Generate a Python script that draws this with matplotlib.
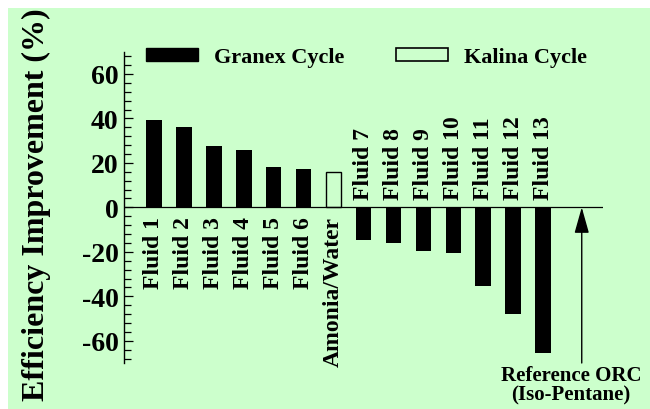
import matplotlib
matplotlib.use('Agg')
import matplotlib.pyplot as plt
from matplotlib.patches import Patch, Rectangle
from matplotlib.ticker import MultipleLocator

# data
fluids = ['Fluid 1', 'Fluid 2', 'Fluid 3', 'Fluid 4', 'Fluid 5', 'Fluid 6',
          'Amonia/Water',
          'Fluid 7', 'Fluid 8', 'Fluid 9', 'Fluid 10', 'Fluid 11', 'Fluid 12', 'Fluid 13']
improvement = [39.3, 36.1, 27.7, 25.8, 18.1, 17.2,
               15.7,
               -14.7, -16.2, -19.5, -20.4, -35.3, -48.0, -65.4]
cycle = ['Granex'] * 6 + ['Kalina'] + ['Granex'] * 7
y_ticks = [-60, -40, -20, 0, 20, 40, 60]

GREEN = '#CCFFCC'
plt.rcParams['font.family'] = ['Liberation Serif', 'DejaVu Serif']
plt.rcParams['font.weight'] = 'bold'
plt.rcParams['axes.unicode_minus'] = False

fig = plt.figure(figsize=(6.5, 4.1), dpi=100, facecolor='white')
# green panel with a thin white margin on top and left
fig.patches.append(Rectangle((8 / 650, 0), 1, 1 - 9 / 410, transform=fig.transFigure,
                             facecolor=GREEN, edgecolor='none', zorder=-10))

ax = fig.add_axes([124 / 650, 1 - 364 / 410, 479 / 650, 311.3 / 410])
ax.set_facecolor('none')

for i, (v, c) in enumerate(zip(improvement, cycle)):
    if c == 'Granex':
        ax.bar(i, v, width=0.52, color='black', zorder=2)
    else:
        ax.bar(i, v, width=0.52, facecolor='none', edgecolor='black', linewidth=1.0, zorder=2)
    if v > 0:
        ax.text(i, -4, fluids[i], rotation=90, ha='center', va='top',
                fontsize=17, fontweight='bold')
    else:
        ax.text(i, 3.6, fluids[i], rotation=90, ha='center', va='bottom',
                fontsize=17, fontweight='bold')

ax.set_xlim(-1, 15)
ax.set_ylim(-70, 70)
ax.axhline(0, color='black', linewidth=0.9, zorder=3)

for s in ['top', 'right', 'bottom']:
    ax.spines[s].set_visible(False)
ax.spines['left'].set_linewidth(1.0)
ax.set_xticks([])
ax.set_yticks(y_ticks)
ax.yaxis.set_minor_locator(MultipleLocator(4))
ax.tick_params(axis='y', which='major', direction='in', length=6.5, width=0.9,
               labelsize=20, pad=4)
ax.tick_params(axis='y', which='minor', direction='in', length=4.7, width=0.9)
for lab in ax.get_yticklabels():
    lab.set_fontweight('bold')

# reference arrow
ax.annotate('', xy=(14.29, 0), xytext=(14.29, -70),
            arrowprops=dict(arrowstyle='-|>,head_length=1.6,head_width=0.45',
                            mutation_scale=10, color='black', linewidth=1.0,
                            shrinkA=0, shrinkB=0), annotation_clip=False)
ax.text(13.93, -71, 'Reference ORC\n(Iso-Pentane)', ha='center', va='top',
        fontsize=15, fontweight='bold', linespacing=0.95, clip_on=False)

fig.text(36 / 650, 1 - 205 / 410, 'Efficiency Improvement (%)', rotation=90,
         ha='center', va='center', fontsize=23, fontweight='bold')

# two separate legend entries
leg_kw = dict(loc='center left', bbox_transform=fig.transFigure, frameon=False,
              borderpad=0, borderaxespad=0, handlelength=2.35, handleheight=0.55,
              handletextpad=0.7, prop={'size': 16, 'weight': 'bold'})
leg1 = ax.legend(handles=[Patch(facecolor='black', edgecolor='black', label='Granex Cycle')],
                 bbox_to_anchor=(146 / 650, 1 - 58.5 / 410), **leg_kw)
ax.add_artist(leg1)
ax.legend(handles=[Patch(facecolor='none', edgecolor='black', linewidth=1.2, label='Kalina Cycle')],
          bbox_to_anchor=(396 / 650, 1 - 58.5 / 410), **leg_kw)

fig.savefig('out.png', dpi=100, facecolor=fig.get_facecolor())
